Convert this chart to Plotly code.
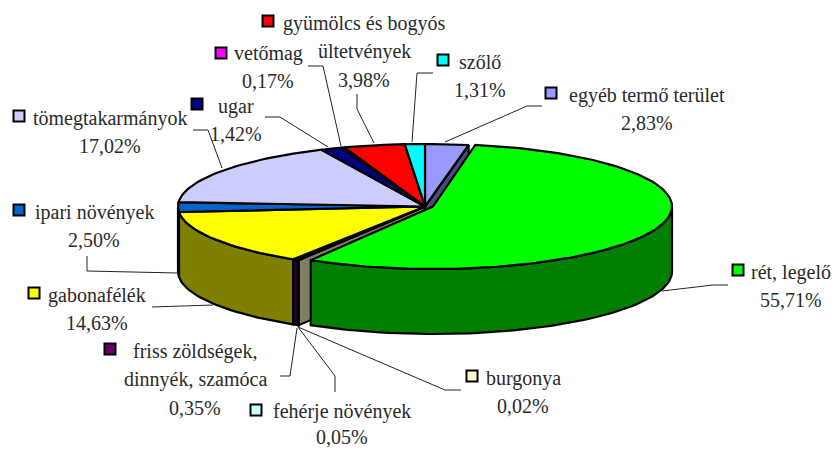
import numpy as np
import plotly.graph_objects as go

# --- data -----------------------------------------------------------------
names = ["egyéb termő terület", "rét, legelő", "burgonya", "fehérje növények",
         "friss zöldségek,<br>dinnyék, szamóca", "gabonafélék", "ipari növények",
         "tömegtakarmányok", "ugar", "vetőmag", "gyümölcs és bogyós<br>ültetvények", "szőlő"]
values = [2.83, 55.71, 0.02, 0.05, 0.35, 14.63, 2.50, 17.02, 1.42, 0.17, 3.98, 1.31]
colors = ["#9999FF", "#00FF00", "#FFFFCC", "#CCFFFF", "#660066", "#FFFF00", "#0066CC",
          "#CCCCFF", "#000080", "#FF00FF", "#FF0000", "#00FFFF"]

# --- layout of labels (pixel positions on a 836x450 page) -----------------
key_xy = [(551, 93), (738, 270), (472, 376), (256, 410), (110, 349), (34, 293), (19, 210),
          (19, 116), (197, 104), (221, 53), (268, 21), (443, 60)]
# centre x of every text line, y of first line
label_xy = [(647, 95), (791, 272), (523, 378), (342, 411), (195, 351), (97, 295), (94, 212),
            (110, 118), (236, 106), (268, 53), (364, 23), (480, 62)]
LINE = [28.3, 28.3, 28.3, 26, 28.3, 28.3, 28.3, 28.3, 28.3, 28.3, 28.3, 28.3]
leaders = [
    [(542, 106), (527, 106), (445, 142)],
    [(728, 285), (713, 285), (662, 291)],
    [(461, 390), (445, 390), (298, 327)],
    [(335, 392), (335, 376), (298, 327)],
    [(280, 376), (290, 376), (297, 328)],
    [(152, 307), (213, 305)],
    [(87, 256), (87, 271), (178, 273)],
    [(193, 130), (208, 130), (222, 168)],
    [(265, 117), (280, 117), (328, 147)],
    [(308, 66), (323, 66), (341, 146)],
    [(357, 94), (357, 109), (374, 143)],
    [(433, 73), (417, 73), (412, 142)],
]

# --- pie geometry ---------------------------------------------------------
CX, CY, RX, RY, DEPTH = 425, 206.5, 247, 62.5, 65
GREEN_CX, GREEN_RX = 433, 239
GREEN = 1

total = sum(values)
edges = np.concatenate([[0], np.cumsum(values)]) / total * 2 * np.pi


def dim(c):
    return "#%02X%02X%02X" % tuple(int(c[i:i + 2], 16) // 2 for i in (1, 3, 5))


def rim(a0, a1, cx, rx):
    n = max(2, int(abs(a1 - a0) * 40))
    t = np.linspace(a0, a1, n)
    return cx + rx * np.sin(t), CY - RY * np.cos(t)


fig = go.Figure()


def poly(x, y, fill):
    fig.add_trace(go.Scatter(x=list(x) + [x[0]], y=list(y) + [y[0]], mode="lines", fill="toself",
                             fillcolor=fill, line=dict(color="black", width=2.2), hoverinfo="skip"))


def radial_wall(angle, color):
    ox, oy = CX + RX * np.sin(angle), CY - RY * np.cos(angle)
    poly([CX, ox, ox, CX], [CY, oy, oy + DEPTH, CY + DEPTH], dim(color))


def outer_wall(a0, a1, color, cx, rx):
    a0, a1 = max(a0, np.pi / 2), min(a1, 3 * np.pi / 2)
    if a1 <= a0:
        return
    x, y = rim(a0, a1, cx, rx)
    poly(np.concatenate([x, x[::-1]]), np.concatenate([y, y[::-1] + DEPTH]), dim(color))


def top(i, cx, rx):
    x, y = rim(edges[i], edges[i + 1], cx, rx)
    poly(np.concatenate([[cx], x]), np.concatenate([[CY], y]), colors[i])


radial_wall(edges[1], colors[0])
radial_wall(edges[2], colors[2])
for i in range(len(values)):
    if i != GREEN:
        outer_wall(edges[i], edges[i + 1], colors[i], CX, RX)
for i in range(len(values)):
    if i != GREEN:
        top(i, CX, RX)
outer_wall(edges[GREEN], edges[GREEN + 1], colors[GREEN], GREEN_CX, GREEN_RX)
top(GREEN, GREEN_CX, GREEN_RX)

# leader lines
for pts in leaders:
    fig.add_trace(go.Scatter(x=[p[0] for p in pts], y=[p[1] for p in pts], mode="lines",
                             line=dict(color="#222222", width=1), hoverinfo="skip"))

# legend keys
fig.add_trace(go.Scatter(x=[k[0] for k in key_xy], y=[k[1] for k in key_xy], mode="markers",
                         marker=dict(symbol="square", size=11, color=colors,
                                     line=dict(color="black", width=2)), hoverinfo="skip"))

# labels
font = dict(family="Liberation Serif", size=20, color="#2A2A2A")
for name, val, (lx, ly), step in zip(names, values, label_xy, LINE):
    lines = name.split("<br>") + [f"{val:.2f}%".replace(".", ",")]
    for j, t in enumerate(lines):
        fig.add_annotation(x=lx, y=ly + j * step, text=t, showarrow=False, xanchor="center",
                           yanchor="middle", font=font)

fig.update_layout(width=836, height=450, margin=dict(l=0, r=0, t=0, b=0), showlegend=False,
                  paper_bgcolor="white", plot_bgcolor="white",
                  xaxis=dict(range=[0, 836], visible=False, fixedrange=True),
                  yaxis=dict(range=[450, 0], visible=False, fixedrange=True))
fig.write_html("out.html", config=dict(displayModeBar=False),
               post_script="document.body.style.margin='0';document.body.style.overflow='hidden';")
